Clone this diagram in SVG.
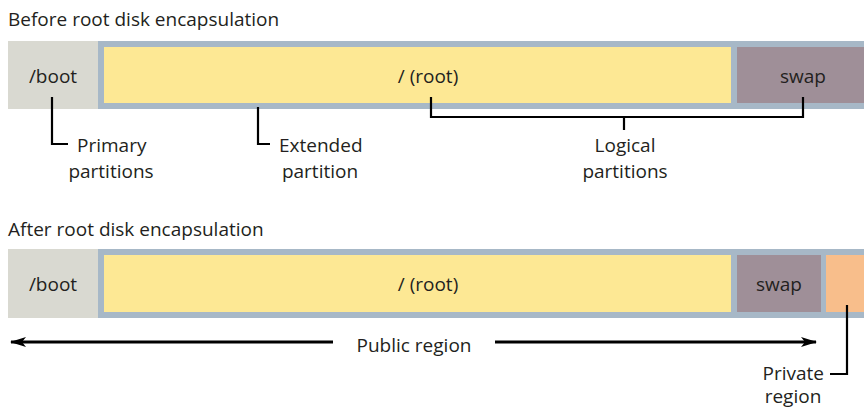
<svg xmlns="http://www.w3.org/2000/svg" width="864" height="407" viewBox="0 0 864 407">
<style>
text{font-family:"Open Sans","DejaVu Sans",sans-serif;font-size:19px;fill:#231f20}
.m{text-anchor:middle}
.e{text-anchor:end}
.boot{fill:#d9d9d1}
.frame{fill:#a7b8c7}
.root{fill:#fde894}
.swap{fill:#9f8f98}
.priv{fill:#f8be8b}
.ln{fill:none;stroke:#000;stroke-width:2.2}
.ar{fill:none;stroke:#000;stroke-width:3.2}
</style>
<defs>
<marker id="ah" viewBox="0 0 16 10" refX="15" refY="5" markerWidth="16" markerHeight="10" markerUnits="userSpaceOnUse" orient="auto-start-reverse">
<path d="M0,0 L16,5 L0,10 L4,5 Z" fill="#000"/>
</marker>
</defs>
<text x="8" y="26">Before root disk encapsulation</text>
<g id="before">
<g id="b-boot"><rect class="boot" x="8" y="41" width="90" height="68"/><text class="m" x="53" y="83">/boot</text></g>
<rect class="frame" x="98" y="41" width="766" height="68"/>
<g id="b-root"><rect class="root" x="104" y="47" width="627" height="56"/><text class="m" x="428" y="83">/ (root)</text></g>
<g id="b-swap"><rect class="swap" x="737" y="47" width="127" height="56"/><text class="m" x="803" y="83">swap</text></g>
</g>
<g id="b-labels">
<text x="77" y="152">Primary</text>
<text class="m" x="111" y="178">partitions</text>
<text x="279" y="152">Extended</text>
<text class="m" x="320" y="178">partition</text>
<text class="m" x="625" y="152">Logical</text>
<text class="m" x="625" y="178">partitions</text>
</g>
<text x="8" y="236">After root disk encapsulation</text>
<g id="after">
<g id="a-boot"><rect class="boot" x="8" y="249" width="90" height="69"/><text class="m" x="53" y="291">/boot</text></g>
<rect class="frame" x="98" y="249" width="766" height="69"/>
<g id="a-root"><rect class="root" x="104" y="255" width="627" height="57"/><text class="m" x="428" y="291">/ (root)</text></g>
<g id="a-swap"><rect class="swap" x="737" y="255" width="84" height="57"/><text class="m" x="779" y="291">swap</text></g>
<g id="a-priv"><rect class="priv" x="826" y="255" width="38" height="57"/></g>
</g>
<g id="a-labels">
<text class="m" x="414" y="352">Public region</text>
<text class="e" x="824" y="380">Private</text>
<text class="m" x="793" y="403">region</text>
</g>
<g id="connectors">
<path class="ln" d="M52,97 V144 H68"/>
<path class="ln" d="M258,107 V144 H270"/>
<path class="ln" d="M431,97 V117 H803 V97 M624,117 V130"/>
<path class="ln" d="M847,305 V374 H830"/>
<path class="ar" d="M333,342 H11" marker-end="url(#ah)"/>
<path class="ar" d="M495,342 H816" marker-end="url(#ah)"/>
</g>
</svg>
